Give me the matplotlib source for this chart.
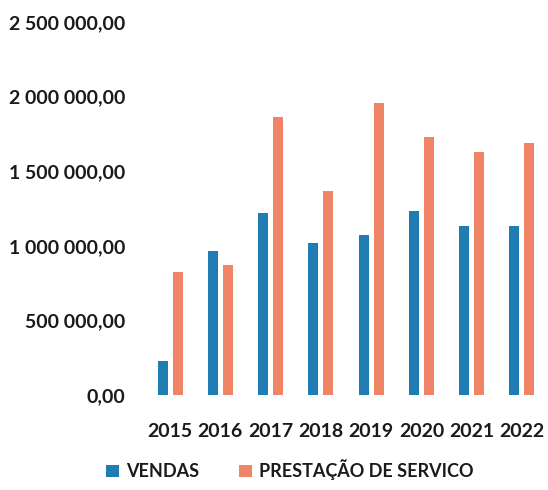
import matplotlib
matplotlib.use("Agg")
import matplotlib.pyplot as plt
import numpy as np

years = ["2015", "2016", "2017", "2018", "2019", "2020", "2021", "2022"]
vendas = [228000, 965000, 1220000, 1020000, 1070000, 1230000, 1130000, 1130000]
prestacao = [824000, 871000, 1860000, 1370000, 1960000, 1730000, 1630000, 1690000]
yticks = [0, 500000, 1000000, 1500000, 2000000, 2500000]

plt.rcParams['font.family'] = ['Lato', 'DejaVu Sans']
plt.rcParams['font.weight'] = 'bold'

fig = plt.figure(figsize=(5.48, 4.90), dpi=100)
ax = fig.add_axes([145/548, 1-395/490, (547-145)/548, (395-22)/490])

x = np.arange(len(years))
w = 0.2
ax.bar(x - 0.15, vendas, width=w, color="#1f7db3", label="VENDAS")
ax.bar(x + 0.15, prestacao, width=w, color="#ef8467", label="PRESTAÇÃO DE SERVICO")

ax.set_xlim(-0.5, len(years) - 0.5)
ax.set_ylim(0, 2500000)
ax.set_yticks(yticks)
def fmt(v):
    s = f"{int(v):,}".replace(",", " ")
    return s + ",00"
ax.set_yticklabels([fmt(v) for v in yticks])
ax.set_xticks(x)
ax.set_xticklabels(years)
for s in ax.spines.values():
    s.set_visible(False)
ax.tick_params(axis='both', length=0, labelsize=14, colors="#1a1a1a")
ax.tick_params(axis='y', pad=14)
ax.tick_params(axis='x', pad=20)

leg = fig.legend(loc="center", bbox_to_anchor=(290/548, 1-470/490), ncol=2, frameon=False,
                 prop={'size': 13, 'weight': 'bold'}, handlelength=0.7, handleheight=0.7,
                 columnspacing=2.2, handletextpad=0.4)
for t in leg.get_texts():
    t.set_color("#1a1a1a")

fig.savefig("out.png", dpi=100)
